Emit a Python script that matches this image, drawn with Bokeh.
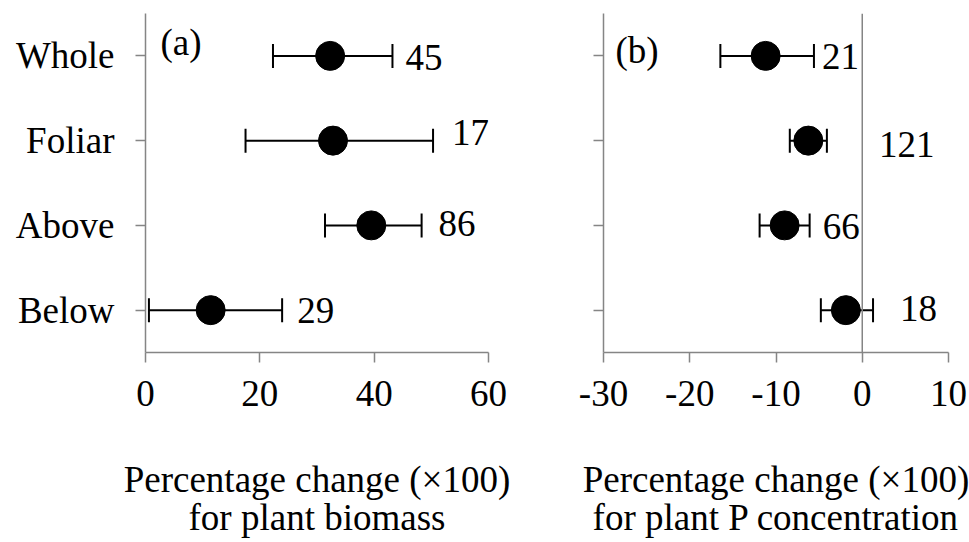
from bokeh.plotting import figure
from bokeh.models import (ColumnDataSource, FactorRange, Range1d, FixedTicker, Whisker, TeeHead,
                          Span, Label, CustomLabelingPolicy)
from bokeh.layouts import row
from bokeh.core.properties import value
from bokeh.embed import file_html
from bokeh.resources import INLINE

# ---------------- data ----------------
categories = ["Whole", "Foliar", "Above", "Below"]

biomass_mean = [32.3, 32.8, 39.5, 11.4]
biomass_low = [22.3, 17.5, 31.4, 0.6]
biomass_high = [43.2, 50.3, 48.3, 23.9]
biomass_n = ["45", "17", "86", "29"]

pconc_mean = [-11.2, -6.25, -9.0, -1.9]
pconc_low = [-16.45, -8.4, -11.9, -4.8]
pconc_high = [-5.6, -4.1, -6.1, 1.25]
pconc_n = ["21", "121", "66", "18"]

biomass_ticks = [0, 20, 40, 60]
pconc_ticks = [-30, -20, -10, 0, 10]

FONT = "Liberation Serif"
FS = "37px"
AXIS_COLOR = "#858585"

# label placement (styling, pixels)
biomass_dx = [13, 19, 17, 15]
biomass_dy = [2, -8, -2, 0]
pconc_dx = [8, 52, 13, 27]
pconc_dy = [1, 4, 1, -2]


def make_panel(mean, low, high, ns, dx, dy, xr, ticks, title, show_cats,
               width, left, right, tag, tag_x, tag_y):
    p = figure(width=width, height=542, x_range=Range1d(*xr),
               y_range=FactorRange(factors=categories[::-1]),
               output_backend="svg", toolbar_location=None,
               min_border_left=left, min_border_right=right,
               min_border_top=13, min_border_bottom=190)
    p.outline_line_color = None
    p.xgrid.visible = False
    p.ygrid.visible = False
    p.background_fill_color = "white"
    p.border_fill_color = "white"

    src = ColumnDataSource(dict(cat=categories, mean=mean, low=low, high=high,
                                n=ns, dx=dx, dy=dy))

    w = Whisker(source=src, base="cat", lower="low", upper="high",
                dimension="width", line_color="black", line_width=2,
                lower_head=TeeHead(size=24, line_color="black", line_width=2),
                upper_head=TeeHead(size=24, line_color="black", line_width=2))
    p.add_layout(w)
    p.scatter(x="mean", y="cat", source=src, size=29, fill_color="black",
              line_color="black")
    p.text(x="high", y="cat", text="n", source=src, x_offset="dx", y_offset="dy",
           text_font=value(FONT), text_font_size=FS, text_align="left",
           text_baseline="middle", text_color="black")

    # axes
    for ax in (p.xaxis[0], p.yaxis[0]):
        ax.axis_line_color = AXIS_COLOR
        ax.axis_line_width = 1.5
        ax.major_tick_line_color = AXIS_COLOR
        ax.major_tick_line_width = 1.5
        ax.major_tick_out = 10
        ax.major_tick_in = 0
        ax.minor_tick_line_color = None
        ax.major_label_text_font = FONT
        ax.major_label_text_color = "black"
    p.xaxis.ticker = FixedTicker(ticks=ticks)
    p.xaxis.major_label_overrides = {t: str(t) for t in ticks}
    p.xaxis.major_label_text_font_size = FS
    p.xaxis.major_label_standoff = 18
    p.xaxis.axis_label = title
    p.xaxis.axis_label_text_font = FONT
    p.xaxis.axis_label_text_font_size = FS
    p.xaxis.axis_label_text_font_style = "normal"
    p.xaxis.axis_label_text_color = "black"
    p.xaxis.axis_label_standoff = 50
    p.xaxis.axis_label_text_line_height = 0.95

    if show_cats:
        p.yaxis.major_label_text_font_size = FS
        p.yaxis.major_label_standoff = 21
    else:
        p.yaxis.major_label_text_font_size = "0px"
        p.yaxis.major_label_standoff = 0
        p.yaxis.major_label_policy = CustomLabelingPolicy(code="return new Set()")

    p.add_layout(Label(x=tag_x, y=tag_y, x_units="screen", y_units="screen",
                       text=tag, text_font=FONT, text_font_size=FS,
                       text_baseline="middle", text_color="black"))
    return p


pa = make_panel(biomass_mean, biomass_low, biomass_high, biomass_n, biomass_dx, biomass_dy,
                (0, 60), biomass_ticks, "Percentage change (×100)\nfor plant biomass", True,
                545, 145, 57, "(a)", 15, 310)

pb = make_panel(pconc_mean, pconc_low, pconc_high, pconc_n, pconc_dx, pconc_dy,
                (-30, 10), pconc_ticks, "Percentage change (×100)\nfor plant P concentration", False,
                424, 58, 21, "(b)", 12, 302)
pb.add_layout(Span(location=0, dimension="height", line_color=AXIS_COLOR, line_width=1.5))

layout = row(pa, pb)
open("out.html", "w").write(file_html(layout, INLINE))
